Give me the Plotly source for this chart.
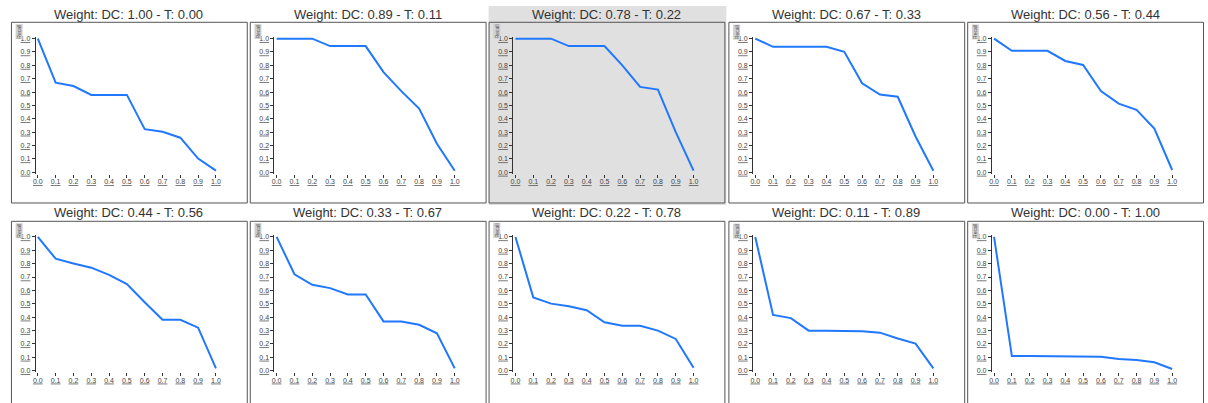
import plotly.graph_objects as go

# ---- data ----
thresholds = [0.0, 0.1, 0.2, 0.3, 0.4, 0.5, 0.6, 0.7, 0.8, 0.9, 1.0]
weights_dc = ["1.00", "0.89", "0.78", "0.67", "0.56", "0.44", "0.33", "0.22", "0.11", "0.00"]
weights_t = ["0.00", "0.11", "0.22", "0.33", "0.44", "0.56", "0.67", "0.78", "0.89", "1.00"]

recall_dc100 = [1.0, 0.67, 0.645, 0.579, 0.579, 0.579, 0.323, 0.303, 0.259, 0.103, 0.012]
recall_dc089 = [1.0, 1.0, 1.0, 0.944, 0.944, 0.944, 0.749, 0.607, 0.477, 0.214, 0.012]
recall_dc078 = [1.0, 1.0, 1.0, 0.944, 0.944, 0.944, 0.80, 0.639, 0.619, 0.30, 0.012]
recall_dc067 = [1.0, 0.939, 0.939, 0.939, 0.939, 0.902, 0.666, 0.582, 0.565, 0.268, 0.012]
recall_dc056 = [1.0, 0.909, 0.909, 0.909, 0.833, 0.803, 0.607, 0.514, 0.467, 0.327, 0.017]
recall_dc044 = [1.0, 0.837, 0.802, 0.770, 0.716, 0.647, 0.511, 0.380, 0.380, 0.321, 0.017]
recall_dc033 = [1.0, 0.721, 0.642, 0.617, 0.570, 0.570, 0.368, 0.368, 0.343, 0.279, 0.017]
recall_dc022 = [1.0, 0.548, 0.501, 0.481, 0.452, 0.361, 0.336, 0.336, 0.299, 0.237, 0.022]
recall_dc011 = [1.0, 0.417, 0.393, 0.299, 0.299, 0.299, 0.294, 0.284, 0.240, 0.202, 0.017]
recall_dc000 = [1.0, 0.109, 0.109, 0.109, 0.109, 0.109, 0.104, 0.086, 0.079, 0.062, 0.012]

series = [recall_dc100, recall_dc089, recall_dc078, recall_dc067, recall_dc056,
          recall_dc044, recall_dc033, recall_dc022, recall_dc011, recall_dc000]
highlighted = 2  # panel with grey background

tick_vals = [0.0, 0.1, 0.2, 0.3, 0.4, 0.5, 0.6, 0.7, 0.8, 0.9, 1.0]
tick_text = ["0.0", "0.1", "0.2", "0.3", "0.4", "0.5", "0.6", "0.7", "0.8", "0.9", "1.0"]

# ---- layout geometry (pixels) ----
W, H = 1208, 403
col_left = [8, 248, 488, 729, 969]
box_w = 237
row_box_top = [20, 221]
row_box_bot = [203, 420]
row_title_y = [12.5, 213]
row_plot_top = [37, 237.3]
row_plot_bot = [172, 372.3]
plot_x0_off, plot_x1_off = 27, 206
pad = 0.012

def fx(px):
    return px / W

def fy(py):
    return 1 - py / H

fig = go.Figure()
shapes = []
annotations = []
layout_axes = {}

for i, ys in enumerate(series):
    r, c = divmod(i, 5)
    n = "" if i == 0 else str(i + 1)
    left = col_left[c]
    # background / box
    if i == highlighted:
        shapes.append(dict(type="rect", xref="paper", yref="paper",
                           x0=fx(left), x1=fx(left + box_w + 2),
                           y0=fy(row_box_bot[r] + 2), y1=fy(4),
                           fillcolor="#e0e0e0", line=dict(width=0), layer="below"))
    shapes.append(dict(type="rect", xref="paper", yref="paper",
                       x0=fx(left + 0.5), x1=fx(left + box_w + 0.5),
                       y0=fy(row_box_bot[r]), y1=fy(row_box_top[r] + 0.5),
                       fillcolor="rgba(0,0,0,0)", line=dict(color="#555555", width=1),
                       layer="below"))
    # title
    annotations.append(dict(text=f"Weight: DC: {weights_dc[i]} - T: {weights_t[i]}",
                            xref="paper", yref="paper",
                            x=fx(left + box_w / 2), y=fy(row_title_y[r]),
                            xanchor="center", yanchor="middle", showarrow=False,
                            font=dict(family="Liberation Sans, Arial", size=13, color="#333333")))
    # y-axis title (tiny, rotated)
    annotations.append(dict(text="Recall", xref="paper", yref="paper",
                            x=fx(left + 4), y=fy(row_box_top[r] + 2),
                            xanchor="left", yanchor="top", showarrow=False, textangle=-90,
                            font=dict(family="Liberation Sans, Arial", size=5, color="#555555"),
                            bgcolor="#d0d0d0", borderpad=0))

    px_per_x = (plot_x1_off - plot_x0_off)
    px_per_y = row_plot_bot[r] - row_plot_top[r]
    xdom = [fx(left + plot_x0_off - pad * px_per_x), fx(left + plot_x1_off + pad * px_per_x)]
    ydom = [fy(row_plot_bot[r] + pad * px_per_y), fy(row_plot_top[r] - pad * px_per_y)]

    tickfont = dict(family="Liberation Sans, Arial", size=7, color="#444444", lineposition="under")
    layout_axes[f"xaxis{n}"] = dict(domain=xdom, anchor=f"y{n}", range=[-pad, 1 + pad],
                                     tickvals=tick_vals, ticktext=tick_text,
                                     showgrid=False, zeroline=False, showline=False,
                                     ticks="outside", ticklen=3, tickcolor="#333333",
                                     ticklabelstandoff=-2,
                                     tickfont=tickfont, fixedrange=True)
    layout_axes[f"yaxis{n}"] = dict(domain=ydom, anchor=f"x{n}", range=[-pad, 1 + pad],
                                     tickvals=tick_vals, ticktext=tick_text,
                                     showgrid=False, zeroline=False, showline=True,
                                     linecolor="#333333", linewidth=1,
                                     ticks="outside", ticklen=3, tickcolor="#333333",
                                     tickfont=tickfont, fixedrange=True)

    fig.add_trace(go.Scatter(x=thresholds, y=ys, mode="lines",
                             line=dict(color="#1f78ff", width=2),
                             xaxis=f"x{n}", yaxis=f"y{n}", showlegend=False,
                             hoverinfo="skip"))

fig.update_layout(width=W, height=H, margin=dict(l=0, r=0, t=0, b=0),
                  paper_bgcolor="white", plot_bgcolor="rgba(0,0,0,0)",
                  shapes=shapes, annotations=annotations, showlegend=False,
                  **layout_axes)

fig.write_html("out.html")
